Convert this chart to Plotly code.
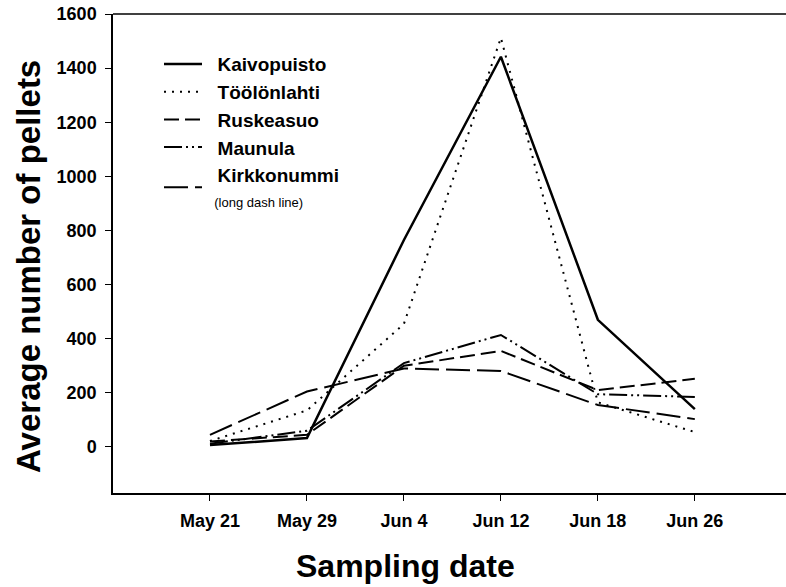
import plotly.graph_objects as go

dates = ["May 21", "May 29", "Jun 4", "Jun 12", "Jun 18", "Jun 26"]
kaivopuisto = [7, 33, 765, 1442, 470, 140]
toolonlahti = [22, 135, 455, 1512, 165, 55]
ruskeasuo = [20, 45, 300, 355, 210, 252]
maunula = [12, 60, 310, 414, 195, 185]
kirkkonummi = [45, 205, 290, 281, 155, 103]

y_ticks = [0, 200, 400, 600, 800, 1000, 1200, 1400, 1600]

pad = "\u00a0\u00a0"
series = [
    (pad + "Kaivopuisto", kaivopuisto, "solid", 2.5),
    (pad + "Töölönlahti", toolonlahti, "2px,6px", 2),
    (pad + "Ruskeasuo", ruskeasuo, "15px,6px", 2),
    (pad + "Maunula", maunula, "18px,4px,2px,4px,2px,4px", 2),
    (pad + "Kirkkonummi<br><span style='font-size:13px;font-weight:normal'>" + pad + "(long dash line)</span>",
     kirkkonummi, "24px,7px", 2),
]

fig = go.Figure()
xpos = list(range(len(dates)))
for name, vals, dash, w in series:
    fig.add_trace(go.Scatter(
        x=xpos, y=vals, mode="lines", name=name,
        line=dict(color="black", width=w, dash=dash),
    ))

font_family = "Liberation Sans, Arial, sans-serif"

fig.update_layout(
    width=786, height=587,
    margin=dict(l=113, r=0, t=14, b=94, autoexpand=False),
    paper_bgcolor="white", plot_bgcolor="white",
    font=dict(family=font_family, color="black"),
    showlegend=True,
    legend=dict(
        x=(159 - 113) / 673, y=0.935, xanchor="left", yanchor="top",
        bgcolor="rgba(0,0,0,0)",
        font=dict(size=19, family=font_family, weight="bold"),
        itemwidth=38, tracegroupgap=0,
    ),
    xaxis=dict(
        range=[-1, 5.94], tickmode="array", tickvals=xpos, ticktext=dates,
        showline=True, linecolor="black", linewidth=1.5, mirror=False,
        ticks="outside", ticklen=6, tickcolor="black", showgrid=False, zeroline=False,
        tickfont=dict(size=18, family=font_family, weight="bold"), automargin=False,
        ticklabelstandoff=5,
    ),
    yaxis=dict(
        range=[-170, 1600], tickmode="array", tickvals=y_ticks,
        showline=True, linecolor="black", linewidth=1.5,
        ticks="outside", ticklen=6, tickcolor="black", showgrid=False, zeroline=False,
        tickfont=dict(size=18, family=font_family, weight="bold"), automargin=False,
        ticklabelstandoff=5,
    ),
    shapes=[dict(type="line", xref="paper", yref="paper", x0=0, x1=1, y0=1, y1=1,
                 line=dict(color="black", width=1.5))],
    annotations=[
        dict(text="Sampling date", xref="paper", yref="paper",
             x=(405 - 113) / 673, y=-(566 - 493) / 479, xanchor="center", yanchor="middle",
             showarrow=False, font=dict(size=32, family=font_family, weight="bold")),
        dict(text="Average number of pellets", xref="paper", yref="paper",
             x=-(113 - 28) / 673, y=1 - (267 - 14) / 479, textangle=-90,
             xanchor="center", yanchor="middle",
             showarrow=False, font=dict(size=33, family=font_family, weight="bold")),
    ],
)

fig.write_html("out.html", config={"displayModeBar": False},
               post_script="document.body.style.margin='0px';")
